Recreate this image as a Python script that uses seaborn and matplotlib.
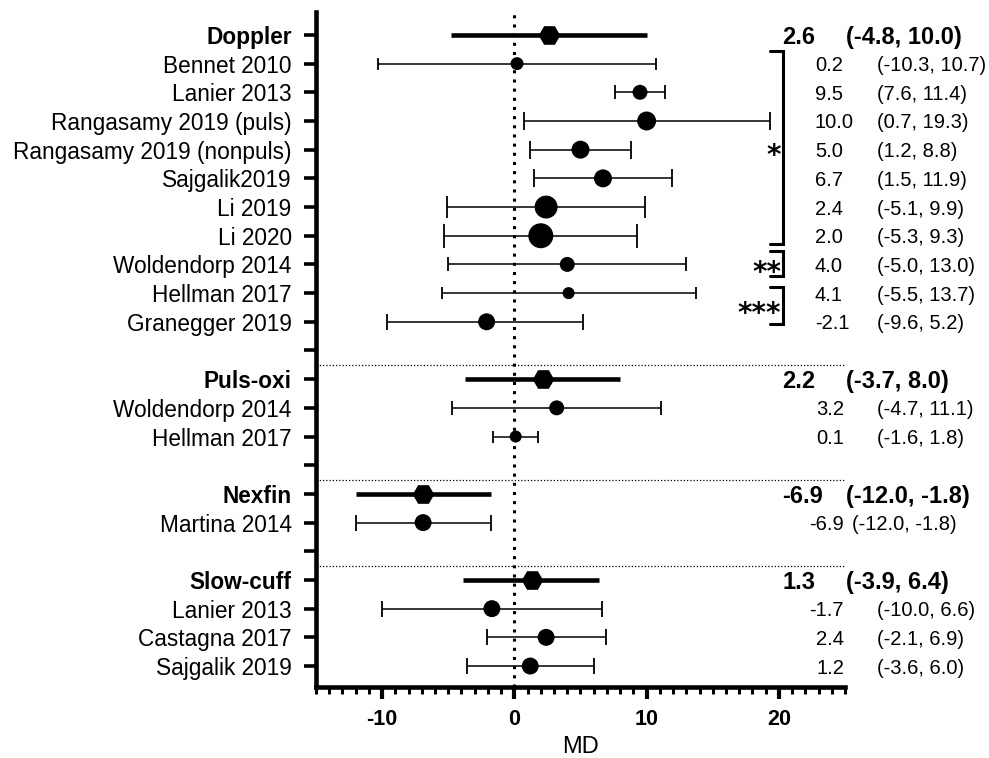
"""Forest plot of mean difference (MD) by measurement method."""

import matplotlib

matplotlib.use("Agg")
import matplotlib.pyplot as plt
import numpy as np
import pandas as pd
import seaborn as sns
from matplotlib.ticker import MultipleLocator

# pooled estimate per method
groups = ["Doppler", "Puls-oxi", "Nexfin", "Slow-cuff"]
pooled_md = [2.6, 2.2, -6.9, 1.3]
pooled_lo = [-4.8, -3.7, -12.0, -3.9]
pooled_hi = [10.0, 8.0, -1.8, 6.4]

# individual studies (group index into `groups`)
study_group = [0, 0, 0, 0, 0, 0, 0, 0, 0, 0, 1, 1, 2, 3, 3, 3]
study_names = [
    "Bennet 2010", "Lanier 2013", "Rangasamy 2019 (puls)",
    "Rangasamy 2019 (nonpuls)", "Sajgalik2019", "Li 2019", "Li 2020",
    "Woldendorp 2014", "Hellman 2017", "Granegger 2019",
    "Woldendorp 2014", "Hellman 2017",
    "Martina 2014",
    "Lanier 2013", "Castagna 2017", "Sajgalik 2019",
]
study_md = [0.2, 9.5, 10.0, 5.0, 6.7, 2.4, 2.0, 4.0, 4.1, -2.1, 3.2, 0.1, -6.9, -1.7, 2.4, 1.2]
study_lo = [-10.3, 7.6, 0.7, 1.2, 1.5, -5.1, -5.3, -5.0, -5.5, -9.6, -4.7, -1.6, -12.0, -10.0, -2.1, -3.6]
study_hi = [10.7, 11.4, 19.3, 8.8, 11.9, 9.9, 9.3, 13.0, 13.7, 5.2, 11.1, 1.8, -1.8, 6.6, 6.9, 6.0]
study_weight = [4.2, 5.6, 9.0, 8.1, 8.1, 13.2, 15.6, 5.6, 3.6, 7.2, 5.6, 3.6, 7.2, 7.2, 7.2, 7.2]

# significance brackets on the Doppler studies: (top row, bottom row, label)
brackets = [(0.56, 7.3, "*"), (7.52, 8.4, "**"), (8.79, 10.08, "***")]
bracket_label_row = [4.5, 8.58, 10.0]

sns.set_theme(style="ticks")
plt.rcParams["font.family"] = ["Liberation Sans", "DejaVu Sans"]
plt.rcParams["axes.unicode_minus"] = False
for key in ["text.color", "axes.labelcolor", "axes.edgecolor", "xtick.color", "ytick.color"]:
    plt.rcParams[key] = "black"

# lay the rows out: header, studies, blank line between groups
pooled_row, study_row = [], []
row = 0
for g in range(len(groups)):
    pooled_row.append(row)
    row += 1
    for sg in study_group:
        if sg == g:
            study_row.append(row)
            row += 1
    row += 1
n_rows = row - 1

labels = [""] * n_rows
for g, r in enumerate(pooled_row):
    labels[r] = groups[g]
for i, r in enumerate(study_row):
    labels[r] = study_names[i]

studies = pd.DataFrame({"md": study_md, "row": study_row, "weight": study_weight})
pooled = pd.DataFrame({"md": pooled_md, "row": pooled_row})

fig = plt.figure(figsize=(9.89, 7.58), dpi=100)
ax = fig.add_axes([0.3195, 0.0937, 0.5349, 0.8905])

ax.axvline(0, color="black", lw=2.2, ls=(0, (1, 2)), zorder=1)
for r in pooled_row[1:]:
    ax.axhline(r - 0.5, color="black", lw=0.9, ls=(0, (1, 1.6)), zorder=1)

# study CIs, cap length follows the marker size
area_per_weight = 20.7
for i in range(len(study_md)):
    md = study_md[i]
    ax.errorbar(
        md, study_row[i],
        xerr=[[md - study_lo[i]], [study_hi[i] - md]],
        fmt="none", ecolor="black", elinewidth=1.1, capthick=1.3,
        capsize=np.sqrt(area_per_weight * study_weight[i]) / 2, zorder=2,
    )
ax.hlines(pooled_row, pooled_lo, pooled_hi, color="black", lw=3.3, zorder=2)

wmax = max(study_weight)
sns.scatterplot(
    data=studies, x="md", y="row", size="weight",
    sizes=(0, area_per_weight * wmax), size_norm=(0, wmax),
    color="black", linewidth=0, legend=False, ax=ax, zorder=3,
)
sns.scatterplot(
    data=pooled, x="md", y="row", marker="H", s=240,
    color="black", linewidth=0, legend=False, ax=ax, zorder=3,
)

ax.set_xlim(-15, 25)
ax.set_ylim(n_rows - 1 + 0.73, -0.8)
ax.set_xticks([-10, 0, 10, 20])
ax.xaxis.set_minor_locator(MultipleLocator(1))
ax.set_yticks(range(n_rows))
ax.set_yticklabels(labels, fontsize=16.3)
for r in pooled_row:
    ax.get_yticklabels()[r].set_fontweight("bold")
for lab in ax.get_xticklabels():
    lab.set_fontweight("bold")
ax.tick_params(axis="x", which="major", length=8.5, width=3, labelsize=15.5, pad=7)
ax.tick_params(axis="x", which="minor", length=5, width=2.2)
ax.tick_params(axis="y", length=8.5, width=2.6, pad=9)
ax.set_xlabel("MD", fontsize=17, labelpad=5)
ax.set_ylabel("")
sns.despine(ax=ax)
for side in ["left", "bottom"]:
    ax.spines[side].set_linewidth(3.3)

# estimate and CI columns on the right
for g in range(len(groups)):
    r = pooled_row[g]
    ax.text(20.24, r, f"{pooled_md[g]:.1f}", fontsize=17, fontweight="bold",
            ha="left", va="center_baseline", clip_on=False)
    ax.text(25.08, r, f"({pooled_lo[g]:.1f}, {pooled_hi[g]:.1f})", fontsize=17,
            fontweight="bold", ha="left", va="center_baseline", clip_on=False)
for i in range(len(study_md)):
    r = study_row[i]
    if study_group[i] == 0:
        ax.text(22.73, r, f"{study_md[i]:.1f}", fontsize=14.5, ha="left",
                va="center_baseline", clip_on=False)
    else:
        ax.text(24.92, r, f"{study_md[i]:.1f}", fontsize=14.5, ha="right",
                va="center_baseline", clip_on=False)
    ci_x = 25.53 if study_group[i] == 2 else 27.42
    ax.text(ci_x, r, f"({study_lo[i]:.1f}, {study_hi[i]:.1f})", fontsize=14.5,
            ha="left", va="center_baseline", clip_on=False)

for (top, bottom, mark), lab_row in zip(brackets, bracket_label_row):
    ax.plot([19.33, 20.31, 20.31, 19.33], [top, top, bottom, bottom],
            color="black", lw=2.2, clip_on=False, solid_joinstyle="miter")
    ax.text(20.16, lab_row, mark, fontsize=20, fontweight="bold", family="DejaVu Sans",
            ha="right", va="baseline", clip_on=False)

fig.savefig("out.png", dpi=100)
